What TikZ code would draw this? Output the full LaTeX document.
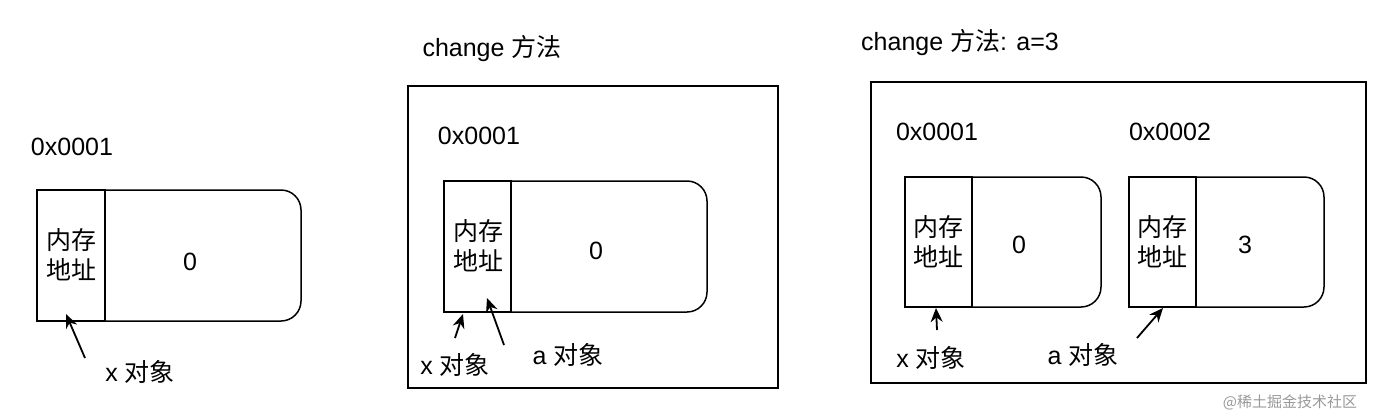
\documentclass[tikz,border=0pt]{standalone}
\usepackage{fontspec}
\setmainfont{Liberation Sans}
\newfontfamily\cjk{Noto Sans CJK SC}
\usetikzlibrary{arrows.meta}
\begin{document}
\begin{tikzpicture}[x=1pt,y=-1pt,line width=1.5pt,
  lbl/.style={font=\fontsize{25}{30}\selectfont,inner sep=0pt},
  cellt/.style={font=\fontsize{25}{30}\selectfont\cjk,align=center,inner sep=0pt},
  ptr/.style={-{Stealth[length=14pt,width=12pt]},line width=1.8pt}]
\useasboundingbox (0,0) rectangle (1375,418);
\newcommand\mem[5]{% x1,y1,xcell,x2,y2
  \draw[rounded corners=20pt] (#3,#2) -- (#4,#2) -- (#4,#5) -- (#3,#5);
  \draw (#1,#2) rectangle (#3,#5);
}
% left
\mem{37}{190}{105}{301}{321}
\node[cellt] (c1) at (71,255) {内存\\地址};
\node[lbl] (v1) at (190,262) {0};
\node[lbl] (ad1) at (72,147) {0x0001};
\node[lbl] (x1) at (140,372) {x {\cjk 对象}};
\coordinate (t1) at (85,358);
\coordinate (h1) at (66,314);
\draw[ptr] (t1) -- (h1);
% middle
\draw (408,86) rectangle (778,388);
\node[lbl] (m0) at (492,49) {change {\cjk 方法}};
\mem{444}{181}{511}{707}{312}
\node[cellt] (c2) at (478,246) {内存\\地址};
\node[lbl] (v2) at (596,251) {0};
\node[lbl] (ad2) at (479,136) {0x0001};
\node[lbl] (x2) at (455,365) {x {\cjk 对象}};
\node[lbl] (a2) at (568,355) {a {\cjk 对象}};
\coordinate (t2) at (455,338); \coordinate (h2) at (463,314);
\draw[ptr] (t2) -- (h2);
\coordinate (t3) at (504,345); \coordinate (h3) at (487,298);
\draw[ptr] (t3) -- (h3);
% right
\draw (871,82) rectangle (1366,383);
\node[lbl] (m1) at (960,43) {change {\cjk 方法}: a=3};
\mem{905}{177}{972}{1101}{307}
\mem{1129}{177}{1196}{1324}{307}
\node[cellt] (c3) at (938,242) {内存\\地址};
\node[cellt] (c4) at (1162,242) {内存\\地址};
\node[lbl] (v3) at (1019,245) {0};
\node[lbl] (v4) at (1245,245) {3};
\node[lbl] (ad3) at (937,132) {0x0001};
\node[lbl] (ad4) at (1170,132) {0x0002};
\node[lbl] (x3) at (931,358) {x {\cjk 对象}};
\node[lbl] (a3) at (1083,355) {a {\cjk 对象}};
\coordinate (t4) at (937,330); \coordinate (h4) at (936,308);
\draw[ptr] (t4) -- (h4);
\coordinate (t5) at (1137,338); \coordinate (h5) at (1163,308);
\draw[ptr] (t5) -- (h5);
\node[font=\fontsize{15}{18}\selectfont\cjk,text=black!40,inner sep=0pt] (wm) at (1290,402) {@稀土掘金技术社区};
\end{tikzpicture}
\end{document}
